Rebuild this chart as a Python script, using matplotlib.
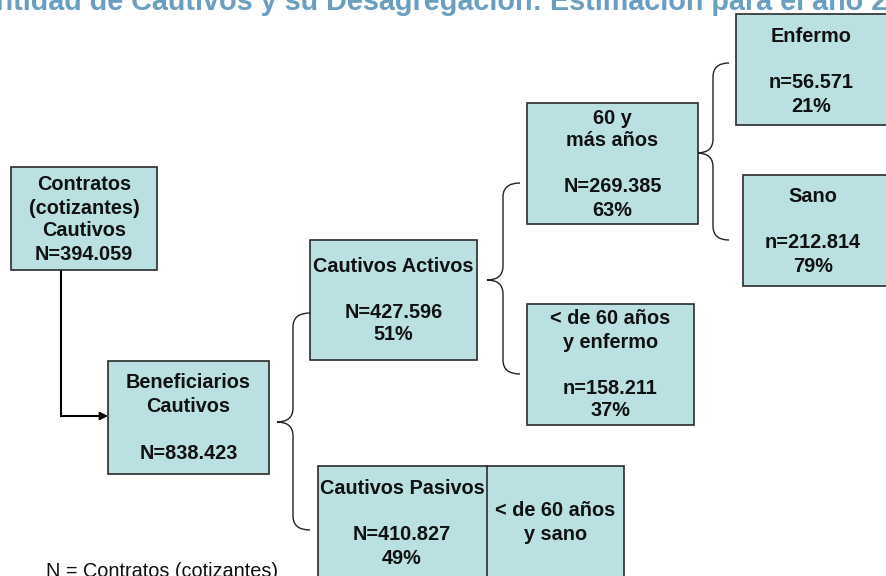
import matplotlib
matplotlib.use("Agg")
import matplotlib.pyplot as plt
from matplotlib.patches import Rectangle, PathPatch
from matplotlib.path import Path

plt.rcParams['font.family'] = ['Liberation Sans', 'DejaVu Sans']

title = "Cantidad de Cautivos y su Desagregación: Estimación para el año 2011"
footnote = "N = Contratos (cotizantes)"

# node texts
contratos = ["Contratos", "(cotizantes)", "Cautivos", "N=394.059"]
beneficiarios = ["Beneficiarios", "Cautivos", "", "N=838.423"]
activos = ["Cautivos Activos", "", "N=427.596", "51%"]
pasivos = ["Cautivos Pasivos", "", "N=410.827", "49%"]
pasivos_side = ["< de 60 años", "y sano"]
mayores = ["60 y", "más años", "", "N=269.385", "63%"]
menores_enf = ["< de 60 años", "y enfermo", "", "n=158.211", "37%"]
enfermo = ["Enfermo", "", "n=56.571", "21%"]
sano = ["Sano", "", "n=212.814", "79%"]

FILL = "#bae0e2"
EDGE = "#2b2b2b"
TXT = "#111111"

fig = plt.figure(figsize=(8.86, 5.76), dpi=100)
ax = fig.add_axes([0, 0, 1, 1])
ax.set_xlim(0, 886)
ax.set_ylim(576, 0)
ax.axis("off")


def box(x0, y0, x1, y1):
    ax.add_patch(Rectangle((x0, y0), x1 - x0, y1 - y0, facecolor=FILL,
                           edgecolor=EDGE, linewidth=1.2, zorder=2))


def lines(xc, y_first, texts, step=23):
    for i, t in enumerate(texts):
        if t:
            ax.text(xc, y_first + i * step, t, ha="center", va="center",
                    fontsize=14.3, fontweight="bold", color=TXT, zorder=3)


def brace(x_tip, x_mid, x_end, y_top, y_tip, y_bot, r=14):
    verts = [(x_end, y_top), (x_mid, y_top), (x_mid, y_top + r),
             (x_mid, y_tip - r), (x_mid, y_tip), (x_tip, y_tip),
             (x_mid, y_tip), (x_mid, y_tip + r),
             (x_mid, y_bot - r), (x_mid, y_bot), (x_end, y_bot)]
    codes = [Path.MOVETO, Path.CURVE3, Path.CURVE3,
             Path.LINETO, Path.CURVE3, Path.CURVE3,
             Path.CURVE3, Path.CURVE3,
             Path.LINETO, Path.CURVE3, Path.CURVE3]
    ax.add_patch(PathPatch(Path(verts, codes), facecolor="none",
                           edgecolor="#222222", linewidth=1.0, zorder=1))


# boxes
box(11, 167, 157, 270)
lines(84, 185, contratos)

box(108, 361, 269, 474)
lines(188.5, 383, beneficiarios, step=23.5)

box(310, 240, 477, 360)
lines(393.5, 266, activos)

box(318, 466, 624, 600)
ax.plot([487, 487], [466, 600], color=EDGE, linewidth=1.2, zorder=3)
lines(402, 489, pasivos)
lines(555.5, 510, pasivos_side, step=24)

box(527, 103, 698, 224)
lines(612.5, 118, mayores)

box(527, 304, 694, 425)
lines(610.5, 319, menores_enf)

box(736, 14, 900, 125)
lines(811, 37, enfermo)

box(743, 175, 900, 286)
lines(813, 197, sano)

# connector arrow
ax.plot([61, 61, 100], [270, 416, 416], color="black", linewidth=1.5,
        zorder=1, solid_joinstyle="miter")
ax.annotate("", xy=(108, 416), xytext=(98, 416),
            arrowprops=dict(arrowstyle="-|>", color="black", lw=1.2,
                            mutation_scale=12, shrinkA=0, shrinkB=0))

# braces
brace(277, 293, 310, 313, 422, 530)
brace(487, 503, 520, 183, 280, 374)
brace(697, 713, 729, 63, 153, 240)

# title and footnote (both cut by the page edges, as in the original slide)
ax.text(446, 10, title, ha="center", va="baseline",
        fontsize=20.7, fontweight="bold", color="#6a9fc2", clip_on=False)
ax.text(46, 577, footnote, ha="left", va="baseline",
        fontsize=14.3, color="#111111", clip_on=False)

fig.savefig("out.png", dpi=100)
